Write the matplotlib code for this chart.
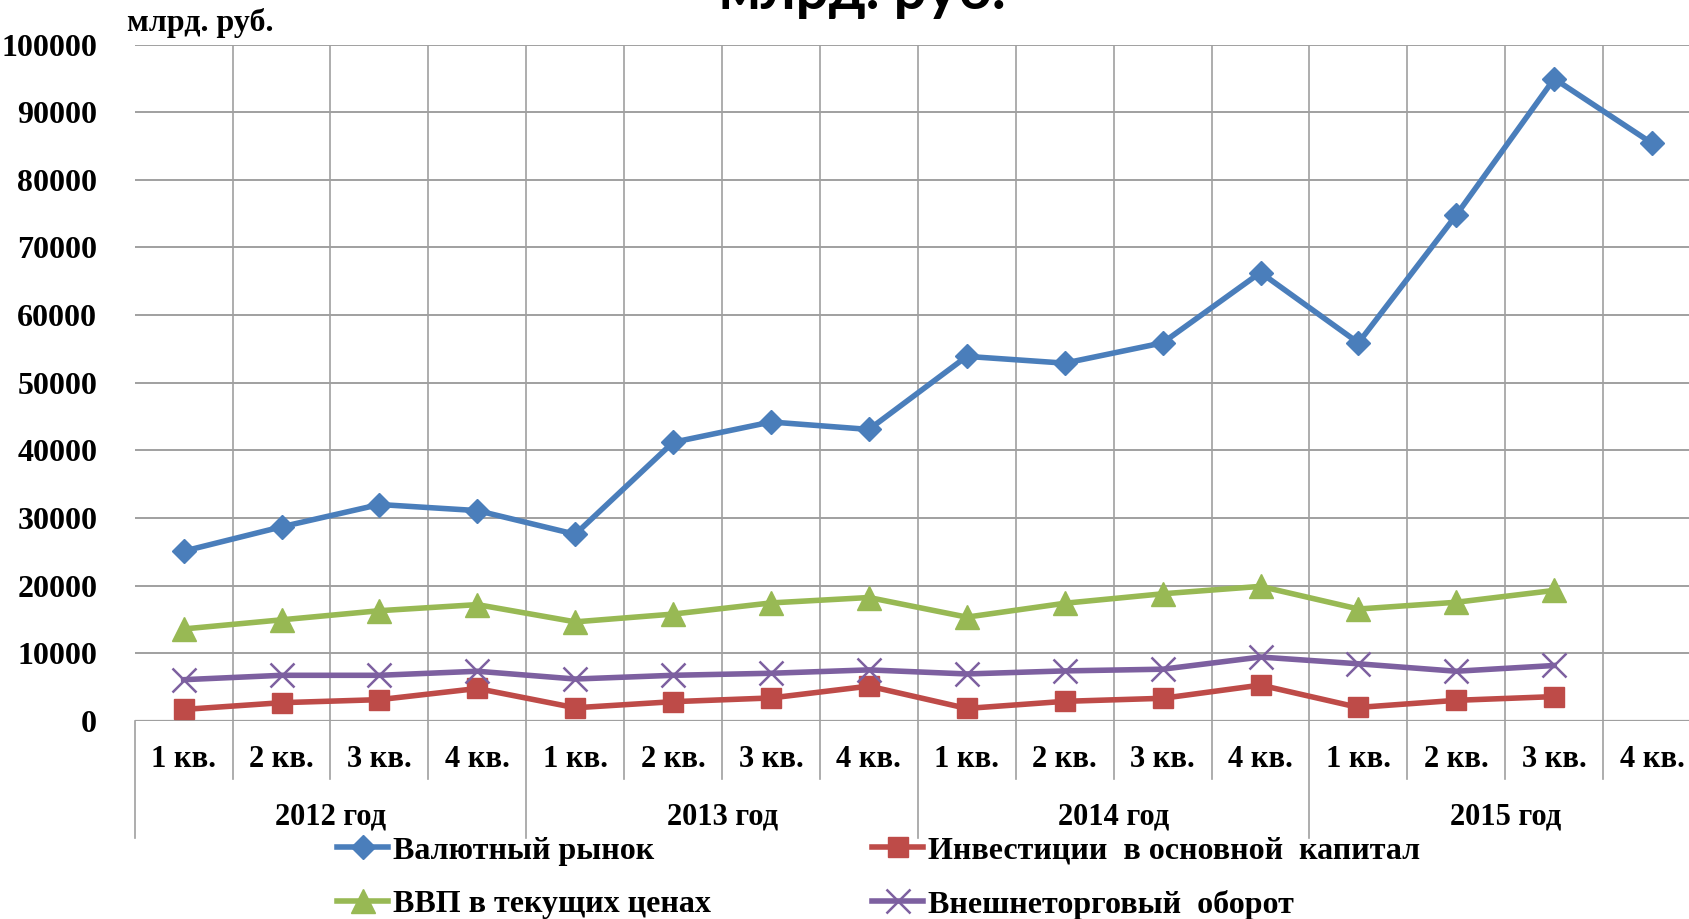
import numpy as np
import matplotlib
matplotlib.use("Agg")
import matplotlib.pyplot as plt
import matplotlib.transforms as mtransforms


# ------------ data ---------------------------------------------------
quarters = ["1 кв.", "2 кв.", "3 кв.", "4 кв."] * 4
years = ["2012 год", "2013 год", "2014 год", "2015 год"]

fx_market = [25100, 28700, 32000, 31100, 27600, 41200, 44200, 43100,
             53900, 52900, 55900, 66300, 55900, 74800, 94950, 85400]
investments = [1700, 2700, 3150, 4800, 1950, 2850, 3400, 5150,
               1850, 2900, 3350, 5300, 2000, 3050, 3600]
gdp = [13600, 14950, 16300, 17200, 14650, 15800, 17450, 18250,
       15350, 17400, 18800, 19900, 16550, 17550, 19300]
trade = [6100, 6750, 6750, 7350, 6200, 6750, 7050, 7550,
         6950, 7400, 7650, 9450, 8450, 7350, 8200]

series_names = ["Валютный рынок", "Инвестиции  в основной  капитал",
                "ВВП в текущих ценах", "Внешнеторговый  оборот"]


# ------------ figure -------------------------------------------------
serif = "Liberation Serif"
grid_col = "#a0a0a0"

fig = plt.figure(figsize=(16.9, 9.19), dpi=100)
ax = fig.add_axes([0.0797, 0.2155, 0.9203, 0.736])

x16 = np.arange(len(fx_market))
x15 = np.arange(len(investments))

h_fx, = ax.plot(x16, fx_market, color="#4a7ebb", lw=4, marker="D", ms=12,
                label=series_names[0], zorder=5)
h_inv, = ax.plot(x15, investments, color="#be4b48", lw=4, marker="s", ms=15,
                 label=series_names[1], zorder=4)
h_gdp, = ax.plot(x15, gdp, color="#98b954", lw=4, marker="^", ms=17,
                 label=series_names[2], zorder=4)
h_tr, = ax.plot(x15, trade, color="#7d60a0", lw=4, marker="x", ms=17, mew=1.8,
                label=series_names[3], zorder=4)

ax.set_xlim(-0.5, 15.387)
ax.set_ylim(0, 100000)
ax.set_yticks(np.arange(0, 100001, 10000))
ax.set_yticklabels([str(v) for v in range(0, 100001, 10000)],
                   fontfamily=serif, fontweight="bold", fontsize=23)
ax.tick_params(axis="y", length=0, pad=27)

# category labels
ax.set_xticks(x16)
ax.set_xticklabels(quarters, fontfamily=serif, fontweight="bold", fontsize=22)
ax.tick_params(axis="x", length=0, pad=17)

# grid
ax.set_axisbelow(True)
for v in range(10000, 100001, 10000):
    ax.axhline(v, color=grid_col, lw=1.4, zorder=0)
for b in np.arange(0.5, 15.5, 1.0):
    ax.axvline(b, color=grid_col, lw=1.2, zorder=0)
for s in ax.spines.values():
    s.set_visible(False)
ax.axhline(0, color=grid_col, lw=1.6, zorder=1)

# lines below the axis separating categories and years
trans = mtransforms.blended_transform_factory(ax.transData, ax.transAxes)
for b in np.arange(-0.5, 16.5, 1.0):
    long_line = (b + 0.5) % 4 == 0
    y_end = -0.173 if long_line else -0.0857
    ax.plot([b, b], [0, y_end], transform=trans, color=grid_col, lw=1.2,
            clip_on=False)
for i, yr in enumerate(years):
    ax.text(4 * i + 1.5, -0.142, yr, transform=trans, ha="center", va="center",
            fontfamily=serif, fontweight="bold", fontsize=22)

# unit label and (cut-off) title
fig.text(0.0751, 0.975, "млрд. руб.", fontfamily=serif, fontweight="bold",
         fontsize=23, ha="left", va="center")
fig.text(0.510, 0.990, "млрд. руб.", fontfamily="Lato", fontweight="bold",
         fontsize=42, ha="center", va="baseline")

# legend, filled row by row
fig.legend([h_fx, h_gdp, h_inv, h_tr],
           [series_names[0], series_names[2], series_names[1], series_names[3]],
           loc="upper left", bbox_to_anchor=(0.192, 0.104), ncol=2,
           frameon=False, prop={"family": serif, "weight": "bold", "size": 23},
           handlelength=1.6, handletextpad=0.15, columnspacing=5.05,
           labelspacing=0.75, borderaxespad=0)

fig.savefig("out.png", dpi=100)
